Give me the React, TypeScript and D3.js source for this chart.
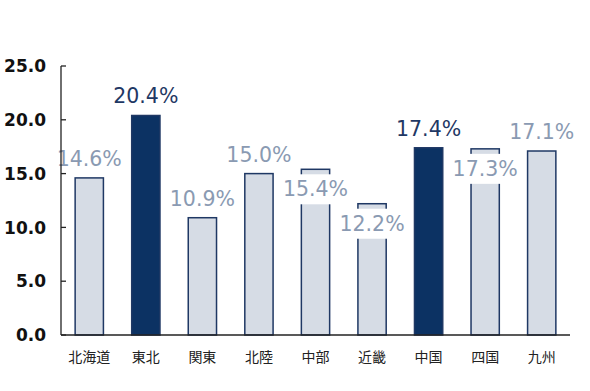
import React from 'react';
import * as d3 from 'd3';

// regional values (%)
const regions = ["北海道", "東北", "関東", "北陸", "中部", "近畿", "中国", "四国", "九州"];
const values = [14.6, 20.4, 10.9, 15.0, 15.4, 12.2, 17.4, 17.3, 17.1];
const highlighted = ["東北", "中国"];
// labels that sit on the bar top with a white box behind them
const boxedLabels = ["中部", "近畿", "四国"];
const yTicks = [0, 5, 10, 15, 20, 25];

const width = 590;
const height = 391;
const margin = { top: 66, right: 20, bottom: 56, left: 61 };

const LIGHT_FILL = "#d6dce5";
const DARK_FILL = "#0c3263";
const STROKE = "#1f3864";
const LIGHT_LABEL = "#8a9ab2";
const DARK_LABEL = "#1f3864";

const App: React.FC = () => {
  const x = d3.scaleBand<string>()
    .domain(regions)
    .range([margin.left, width - margin.right])
    .paddingInner(0.5)
    .paddingOuter(0.25);

  const y = d3.scaleLinear()
    .domain([0, 25])
    .range([height - margin.bottom, margin.top]);

  const bw = x.bandwidth();

  return (
    <svg
      width={width}
      height={height}
      style={{ position: "absolute", left: 0, top: 0, background: "#fff" }}
    >
      {/* bars */}
      {regions.map((r, i) => {
        const dark = highlighted.includes(r);
        return (
          <rect
            key={r}
            x={x(r)!}
            y={y(values[i])}
            width={bw}
            height={y(0) - y(values[i])}
            fill={dark ? DARK_FILL : LIGHT_FILL}
            stroke={STROKE}
            strokeWidth={1.5}
          />
        );
      })}

      {/* value labels */}
      {regions.map((r, i) => {
        const dark = highlighted.includes(r);
        const cx = x(r)! + bw / 2;
        const top = y(values[i]);
        const boxed = boxedLabels.includes(r);
        const baseline = boxed ? top + 27 : top - 12;
        return (
          <g key={r}>
            {boxed && (
              <rect x={cx - 34} y={top + 5} width={68} height={30} fill="#fff" />
            )}
            <text
              x={cx}
              y={baseline}
              textAnchor="middle"
              fontFamily="DejaVu Sans"
              fontSize={20.5}
              fill={dark ? DARK_LABEL : LIGHT_LABEL}
            >
              {values[i].toFixed(1)}%
            </text>
          </g>
        );
      })}

      {/* y axis */}
      <line x1={margin.left} x2={margin.left} y1={y(25)} y2={y(0)} stroke="#222" strokeWidth={1.3} />
      {yTicks.map(t => (
        <g key={t}>
          <line x1={margin.left} x2={margin.left + 5} y1={y(t)} y2={y(t)} stroke="#222" strokeWidth={1.3} />
          <text
            x={46}
            y={y(t)}
            dy="0.36em"
            textAnchor="end"
            fontFamily="DejaVu Sans"
            fontWeight="bold"
            fontSize={17}
            fill="#111"
          >
            {t.toFixed(1)}
          </text>
        </g>
      ))}

      {/* x axis */}
      <line x1={margin.left} x2={width - margin.right} y1={y(0)} y2={y(0)} stroke="#222" strokeWidth={1.3} />
      {regions.map(r => (
        <text
          key={r}
          x={x(r)! + bw / 2}
          y={y(0) + 27}
          textAnchor="middle"
          fontFamily="Noto Sans CJK JP"
          fontSize={14}
          fill="#222"
        >
          {r}
        </text>
      ))}
    </svg>
  );
};

export default App;
